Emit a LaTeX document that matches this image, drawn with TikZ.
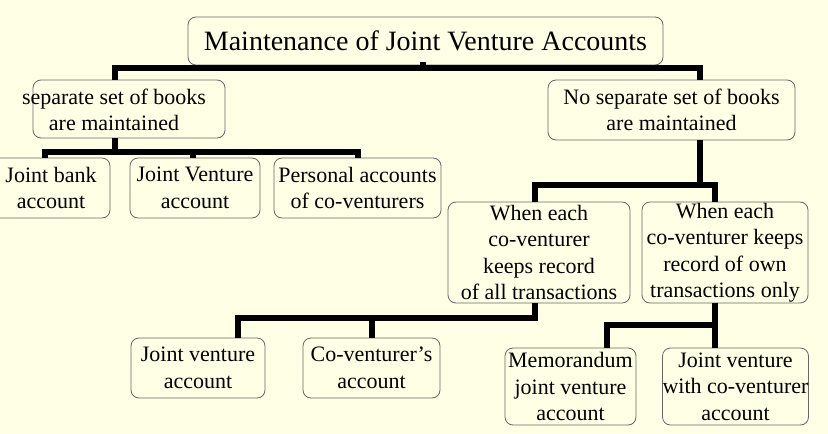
\documentclass[tikz,border=0pt]{standalone}
\usepackage{fontspec}
\setmainfont{Liberation Serif}
\begin{document}
\begin{tikzpicture}[x=1pt,y=-1pt,
  bx/.style={draw=black!60, line width=0.8pt, rounded corners=8pt, fill=bg, inner sep=0pt, align=center, font=\fontsize{22}{26.5}\selectfont},
  ln/.style={line width=6pt, line cap=rect}]
\definecolor{bg}{HTML}{FFFFE6}
\fill[bg] (0,0) rectangle (828,434);
\useasboundingbox (0,0) rectangle (828,434);
\newcommand\bxat[6]{\node[bx, minimum width=#4-#2, minimum height=#5-#3] (#1) at ({(#2+#4)/2},{(#3+#5)/2}) {#6};}
\bxat{t}{188}{17}{663}{65}{\fontsize{28}{32}\selectfont Maintenance of Joint Venture Accounts}
\bxat{l}{33}{80}{225}{138}{}
\node[align=center, inner sep=0pt, font=\fontsize{22}{26.5}\selectfont] (lt) at (114,110) {separate set of books\\are maintained};
\bxat{r}{548}{80}{795}{140}{No separate set of books\\are maintained}
\bxat{a}{-8}{158}{110}{218}{Joint bank\\account}
\bxat{b}{130}{158}{260}{218}{Joint Venture\\account}
\bxat{c}{274}{158}{441}{218}{Personal accounts\\of co-venturers}
\bxat{d}{448}{202}{630}{303}{When each\\co-venturer\\keeps record\\of all transactions}
\bxat{e}{642}{202}{808}{303}{When each\\co-venturer keeps\\record of own\\transactions only}
\bxat{f}{131}{338}{265}{398}{Joint venture\\account}
\bxat{g}{303}{338}{440}{398}{Co-venturer's\\account}
\bxat{h}{505}{348}{636}{425}{Memorandum\\joint venture\\account}
\bxat{k}{663}{348}{808}{425}{Joint venture\\with co-venturer\\account}
\coordinate (t1) at (423,68);
\draw[ln] (t.south -| t1) -- (t1);
\draw[ln] (115,68) coordinate (t2) -- (700,68) coordinate (t3);
\draw[ln,line cap=butt] (t2) -- (l.north -| t2);
\draw[ln,line cap=butt] (t3) -- (r.north -| t3);
\coordinate (l1) at (115,152);
\draw[ln,line cap=butt] (l.south -| l1) -- (l1);
\draw[ln] (45,152) coordinate (l2) -- (358,152) coordinate (l4);
\coordinate (l3) at (193,152);
\draw[ln,line cap=butt] (l2) -- (a.north -| l2);
\draw[ln,line cap=butt] (l3) -- (b.north -| l3);
\draw[ln,line cap=butt] (l4) -- (c.north -| l4);
\coordinate (r1) at (700,185);
\draw[ln,line cap=butt] (r.south -| r1) -- (r1);
\draw[ln] (535,185) coordinate (r2) -- (715,185) coordinate (r3);
\draw[ln,line cap=butt] (r2) -- (d.north -| r2);
\draw[ln,line cap=butt] (r3) -- (e.north -| r3);
\coordinate (d1) at (535,318);
\draw[ln,line cap=butt] (d.south -| d1) -- (d1);
\draw[ln] (238,318) coordinate (d2) -- (d1);
\coordinate (d3) at (372,318);
\draw[ln,line cap=butt] (d2) -- (f.north -| d2);
\draw[ln,line cap=butt] (d3) -- (g.north -| d3);
\coordinate (e1) at (715,325);
\draw[ln,line cap=butt] (e.south -| e1) -- (e1);
\draw[ln] (607,325) coordinate (e2) -- (e1);
\draw[ln,line cap=butt] (e2) -- (h.north -| e2);
\draw[ln,line cap=butt] (e1) -- (k.north -| e1);
\end{tikzpicture}
\end{document}
